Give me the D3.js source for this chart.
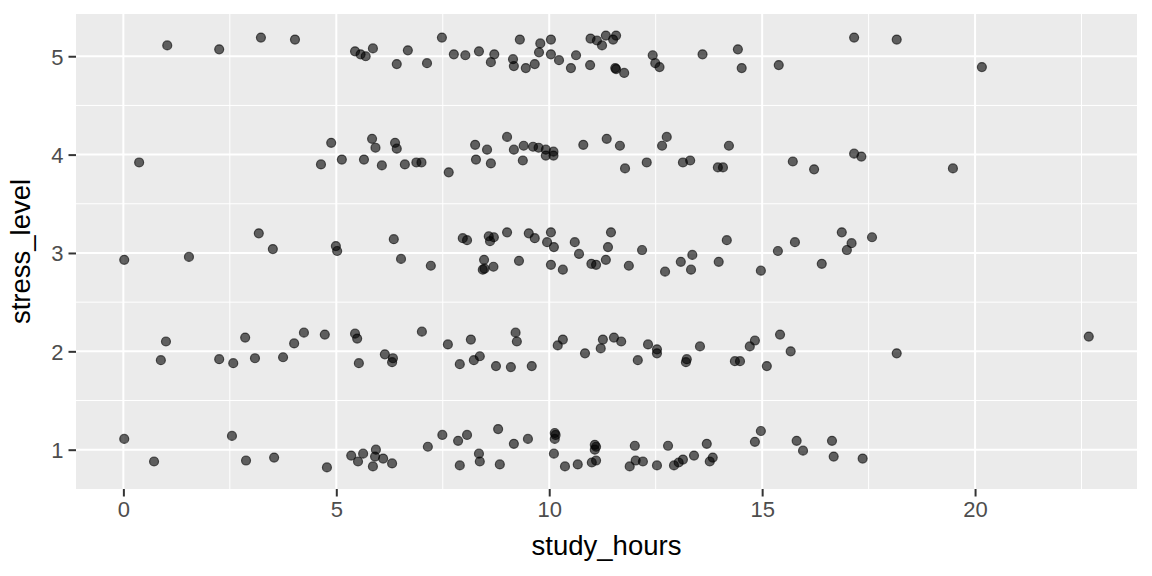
<!DOCTYPE html>
<html>
<head>
<meta charset="utf-8">
<script src="https://cdn.jsdelivr.net/npm/d3@7"></script>
<style>
  body { margin: 0; background: #fff; }
  text { font-family: "Liberation Sans", Arial, sans-serif; }
</style>
</head>
<body>
<div id="chart"></div>
<script>
const margin = { top: 14, right: 15, bottom: 87, left: 76 };
const width = 1152 - margin.left - margin.right;
const height = 576 - margin.top - margin.bottom;

// [study_hours, jittered stress_level] per stress level
const level1 = [[0.02,1.11],[0.72,0.88],[2.55,1.14],[2.88,0.89],[3.54,0.92],[4.78,0.82],[5.35,0.94],[5.51,0.88],[5.63,0.96],[5.86,0.83],[5.91,0.93],[5.93,1.00],[6.10,0.91],[6.31,0.86],[7.15,1.03],[7.49,1.15],[7.86,1.09],[7.90,0.84],[8.07,1.15],[8.35,0.96],[8.37,0.88],[8.80,1.21],[8.84,0.85],[9.17,1.06],[9.50,1.11],[10.11,0.96],[10.13,1.17],[10.13,1.11],[10.15,1.15],[10.37,0.83],[10.67,0.85],[11.00,0.87],[11.07,1.05],[11.07,1.00],[11.10,1.03],[11.10,0.89],[11.89,0.83],[12.01,1.04],[12.03,0.89],[12.20,0.88],[12.53,0.84],[12.79,1.04],[12.93,0.84],[13.04,0.87],[13.14,0.90],[13.40,0.94],[13.70,1.06],[13.77,0.88],[13.84,0.92],[14.83,1.08],[14.97,1.19],[15.81,1.09],[15.96,0.99],[16.64,1.09],[16.68,0.93],[17.36,0.91]];
const level2 = [[0.88,1.91],[1.00,2.10],[2.25,1.92],[2.58,1.88],[2.86,2.14],[3.09,1.93],[3.75,1.94],[4.01,2.08],[4.24,2.19],[4.73,2.17],[5.44,2.18],[5.49,2.13],[5.53,1.88],[6.14,1.97],[6.31,1.89],[6.33,1.93],[7.01,2.20],[7.62,2.07],[7.90,1.87],[8.16,2.12],[8.23,1.91],[8.37,1.95],[8.75,1.85],[9.10,1.84],[9.21,2.19],[9.24,2.10],[9.59,1.85],[10.20,2.06],[10.32,2.12],[10.84,1.98],[11.21,2.03],[11.26,2.12],[11.52,2.14],[11.69,2.10],[12.08,1.91],[12.32,2.07],[12.53,2.02],[12.53,1.98],[13.21,1.89],[13.23,1.92],[13.54,2.05],[14.36,1.90],[14.48,1.90],[14.71,2.05],[14.83,2.11],[15.11,1.85],[15.42,2.17],[15.67,2.00],[18.16,1.98],[22.67,2.15]];
const level3 = [[0.02,2.93],[1.54,2.96],[3.18,3.20],[3.51,3.04],[4.99,3.07],[5.02,3.02],[6.35,3.14],[6.52,2.94],[7.22,2.87],[7.97,3.15],[8.07,3.13],[8.44,2.83],[8.47,2.93],[8.48,2.84],[8.58,3.17],[8.61,3.12],[8.69,2.86],[8.70,3.16],[9.01,3.21],[9.29,2.92],[9.52,3.20],[9.66,3.15],[9.95,3.11],[10.04,3.21],[10.04,2.88],[10.11,3.06],[10.32,2.83],[10.60,3.11],[10.70,2.99],[10.99,2.89],[11.10,2.88],[11.33,2.93],[11.38,3.06],[11.45,3.21],[11.87,2.87],[12.18,3.03],[12.72,2.81],[13.09,2.91],[13.33,2.83],[13.36,2.98],[13.98,2.91],[14.17,3.13],[14.97,2.82],[15.37,3.02],[15.77,3.11],[16.40,2.89],[16.87,3.21],[16.99,3.03],[17.10,3.10],[17.58,3.16]];
const level4 = [[0.37,3.92],[4.64,3.90],[4.88,4.12],[5.13,3.95],[5.65,3.95],[5.84,4.16],[5.92,4.07],[6.07,3.89],[6.38,4.12],[6.42,4.06],[6.61,3.90],[6.88,3.92],[7.00,3.92],[7.64,3.82],[8.26,4.10],[8.28,3.95],[8.54,4.05],[8.63,3.91],[9.01,4.18],[9.17,4.05],[9.38,3.94],[9.40,4.09],[9.62,4.08],[9.75,4.07],[9.92,4.05],[9.92,3.99],[10.10,4.03],[10.10,3.99],[10.80,4.10],[11.35,4.16],[11.66,4.09],[11.78,3.86],[12.29,3.92],[12.65,4.09],[12.76,4.18],[13.14,3.92],[13.31,3.94],[13.96,3.87],[14.08,3.87],[14.22,4.09],[15.72,3.93],[16.22,3.85],[17.16,4.01],[17.33,3.98],[19.48,3.86]];
const level5 = [[1.03,5.11],[2.25,5.07],[3.23,5.19],[4.03,5.17],[5.44,5.05],[5.57,5.02],[5.69,5.00],[5.86,5.08],[6.42,4.92],[6.68,5.06],[7.13,4.93],[7.48,5.19],[7.76,5.02],[8.03,5.01],[8.35,5.05],[8.63,4.94],[8.71,5.02],[9.15,4.97],[9.17,4.90],[9.31,5.17],[9.45,4.88],[9.66,4.92],[9.76,5.04],[9.79,5.13],[10.04,5.17],[10.04,5.02],[10.23,4.96],[10.51,4.88],[10.63,5.01],[10.96,4.91],[10.97,5.18],[11.12,5.16],[11.24,5.11],[11.33,5.21],[11.50,5.17],[11.57,5.21],[11.55,4.88],[11.57,4.87],[11.76,4.83],[12.43,5.01],[12.49,4.93],[12.59,4.89],[13.60,5.02],[14.43,5.07],[14.52,4.88],[15.39,4.91],[17.16,5.19],[18.16,5.17],[20.16,4.89]];

const xTicks = [0, 5, 10, 15, 20];
const yTicks = [1, 2, 3, 4, 5];
const xMinor = [2.5, 7.5, 12.5, 17.5, 22.5];
const yMinor = [1.5, 2.5, 3.5, 4.5];

const points = [...level1, ...level2, ...level3, ...level4, ...level5]
  .map(d => ({ hours: d[0], stress: d[1] }));

// ggplot-style 5% expansion
function expand(ext) {
  const pad = (ext[1] - ext[0]) * 0.05;
  return [ext[0] - pad, ext[1] + pad];
}

const xScale = d3.scaleLinear()
  .domain(expand(d3.extent(points, d => d.hours)))
  .range([0, width]);

const yScale = d3.scaleLinear()
  .domain(expand(d3.extent(points, d => d.stress)))
  .range([height, 0]);

const svg = d3.select("#chart")
  .append("svg")
  .attr("width", width + margin.left + margin.right)
  .attr("height", height + margin.top + margin.bottom)
  .append("g")
  .attr("transform", `translate(${margin.left},${margin.top})`);

// Panel background
svg.append("rect")
  .attr("width", width)
  .attr("height", height)
  .attr("fill", "#EBEBEB");

// Minor grid
svg.selectAll(".xminor").data(xMinor).enter().append("line")
  .attr("x1", d => xScale(d)).attr("x2", d => xScale(d))
  .attr("y1", 0).attr("y2", height)
  .attr("stroke", "#fff").attr("stroke-width", 1);
svg.selectAll(".yminor").data(yMinor).enter().append("line")
  .attr("y1", d => yScale(d)).attr("y2", d => yScale(d))
  .attr("x1", 0).attr("x2", width)
  .attr("stroke", "#fff").attr("stroke-width", 1);

// Major grid
svg.selectAll(".xmajor").data(xTicks).enter().append("line")
  .attr("x1", d => xScale(d)).attr("x2", d => xScale(d))
  .attr("y1", 0).attr("y2", height)
  .attr("stroke", "#fff").attr("stroke-width", 2);
svg.selectAll(".ymajor").data(yTicks).enter().append("line")
  .attr("y1", d => yScale(d)).attr("y2", d => yScale(d))
  .attr("x1", 0).attr("x2", width)
  .attr("stroke", "#fff").attr("stroke-width", 2);

// Axes
const xAxis = svg.append("g")
  .attr("transform", `translate(0,${height})`)
  .call(d3.axisBottom(xScale).tickValues(xTicks).tickFormat(d3.format("d"))
    .tickSize(7.5).tickPadding(5));

const yAxis = svg.append("g")
  .call(d3.axisLeft(yScale).tickValues(yTicks).tickFormat(d3.format("d"))
    .tickSize(7.5).tickPadding(5));

[xAxis, yAxis].forEach(a => {
  a.select(".domain").remove();
  a.selectAll(".tick line").attr("stroke", "#333333").attr("stroke-width", 2);
  a.selectAll(".tick text")
    .attr("fill", "#4D4D4D")
    .style("font-size", "22px")
    .style("font-family", "'Liberation Sans', Arial, sans-serif");
});
yAxis.selectAll(".tick text").attr("dy", "0.36em");

// Points
svg.selectAll(".pt")
  .data(points)
  .enter()
  .append("circle")
  .attr("class", "pt")
  .attr("cx", d => xScale(d.hours))
  .attr("cy", d => yScale(d.stress))
  .attr("r", 4.5)
  .attr("fill", "#000")
  .attr("fill-opacity", 0.6)
  .attr("stroke", "#000")
  .attr("stroke-opacity", 0.6)
  .attr("stroke-width", 1.2);

// Axis titles
svg.append("text")
  .attr("x", width / 2)
  .attr("y", height + 66)
  .attr("text-anchor", "middle")
  .attr("fill", "#000")
  .style("font-size", "27.5px")
  .text("study_hours");

svg.append("text")
  .attr("transform", `translate(${-46},${height / 2}) rotate(-90)`)
  .attr("text-anchor", "middle")
  .attr("fill", "#000")
  .style("font-size", "27.5px")
  .text("stress_level");
</script>
</body>
</html>
